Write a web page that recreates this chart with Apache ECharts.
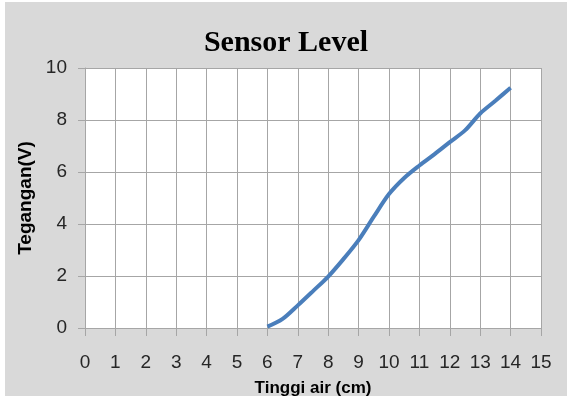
<!DOCTYPE html>
<html>
<head>
<meta charset="utf-8">
<script src="https://cdn.jsdelivr.net/npm/echarts@6/dist/echarts.min.js"></script>
<style>
  html, body { margin: 0; padding: 0; background: #ffffff; }
  #chart { position: absolute; left: 5px; top: 2px; width: 562px; height: 394px; }
</style>
</head>
<body>
<div id="chart"></div>
<script>
// Water height (cm) vs sensor output voltage (V)
const heightCm = [6, 6.5, 7, 7.5, 8, 8.5, 9, 9.5, 10, 10.5, 11, 11.5, 12, 12.5, 13, 13.5, 14];
const voltage  = [0.05, 0.35, 0.87, 1.42, 1.98, 2.65, 3.38, 4.28, 5.15, 5.77, 6.25, 6.69, 7.15, 7.6, 8.25, 8.74, 9.24];

const titleText = 'Sensor Level';
const xName = 'Tinggi air (cm)';
const yName = 'Tegangan(V)';

const points = heightCm.map((h, i) => [h, voltage[i]]);
const gridColor = '#a6a6a6';
const labelFont = 'Liberation Sans';

const chart = echarts.init(document.getElementById('chart'));
chart.setOption({
  backgroundColor: '#d9d9d9',
  animation: false,
  title: {
    text: titleText,
    left: 'center',
    top: 21,
    textStyle: { fontFamily: 'Liberation Serif', fontWeight: 'bold', fontSize: 30, color: '#000000' }
  },
  grid: {
    left: 80, right: 26, top: 66, bottom: 68,
    outerBoundsMode: 'none',
    containLabel: false,
    show: true, backgroundColor: '#ffffff', borderWidth: 0
  },
  xAxis: {
    type: 'value',
    min: 0, max: 15, interval: 1,
    name: xName,
    nameLocation: 'middle',
    nameGap: 52,
    nameTextStyle: { fontFamily: labelFont, fontWeight: 'bold', fontSize: 17, color: '#000000' },
    axisLine: { show: true, lineStyle: { color: gridColor, width: 1 } },
    axisTick: { show: true, length: 8, inside: false, lineStyle: { color: gridColor } },
    axisLabel: { margin: 25, fontFamily: labelFont, fontSize: 19, color: '#262626' },
    splitLine: { show: true, lineStyle: { color: gridColor, width: 1 } }
  },
  yAxis: {
    type: 'value',
    min: 0, max: 10, interval: 2,
    name: yName,
    nameLocation: 'middle',
    nameGap: 45,
    nameTextStyle: { fontFamily: labelFont, fontWeight: 'bold', fontSize: 19, color: '#000000' },
    axisLine: { show: true, lineStyle: { color: gridColor, width: 1 } },
    axisTick: { show: true, length: 7, lineStyle: { color: gridColor } },
    axisLabel: { margin: 18, fontFamily: labelFont, fontSize: 19, color: '#262626' },
    splitLine: { show: true, lineStyle: { color: gridColor, width: 1 } }
  },
  series: [{
    type: 'line',
    data: points,
    smooth: 0.3,
    showSymbol: false,
    lineStyle: { color: '#4a7ebb', width: 4 }
  }]
});
</script>
</body>
</html>
